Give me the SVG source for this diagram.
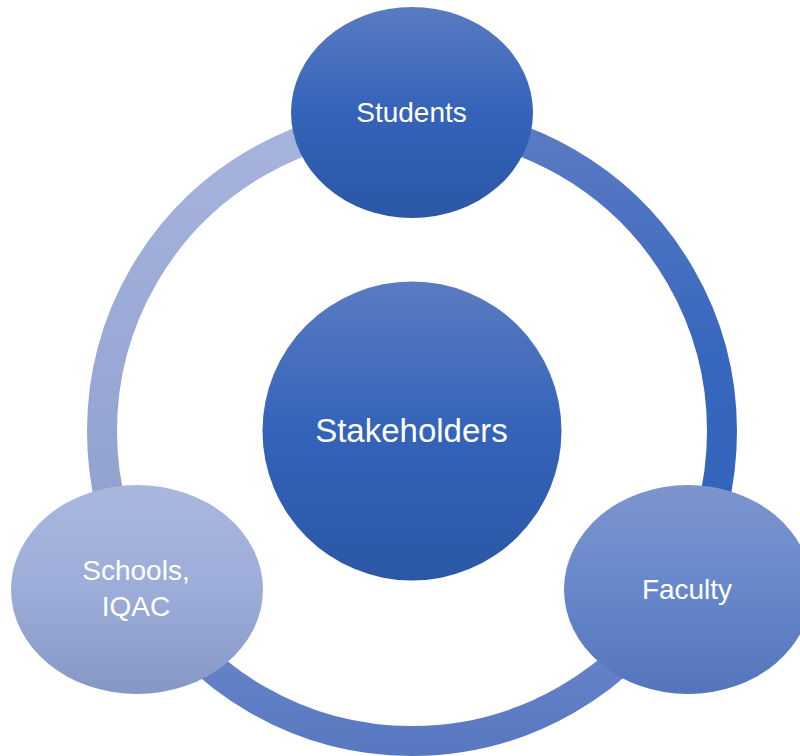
<svg xmlns="http://www.w3.org/2000/svg" width="800" height="756" viewBox="0 0 800 756">
  <defs>
    <linearGradient id="gDark" x1="0" y1="0" x2="0" y2="1">
      <stop offset="0" stop-color="#5A7BC1"/>
      <stop offset="0.5" stop-color="#3463B9"/>
      <stop offset="1" stop-color="#2B57A6"/>
    </linearGradient>
    <linearGradient id="gMid" x1="0" y1="0" x2="0" y2="1">
      <stop offset="0" stop-color="#7C95CE"/>
      <stop offset="0.5" stop-color="#6787CB"/>
      <stop offset="1" stop-color="#5475BB"/>
    </linearGradient>
    <linearGradient id="gLight" x1="0" y1="0" x2="0" y2="1">
      <stop offset="0" stop-color="#AAB7DF"/>
      <stop offset="0.5" stop-color="#9CADD9"/>
      <stop offset="1" stop-color="#8697C6"/>
    </linearGradient>
    <linearGradient id="aLeft" gradientUnits="userSpaceOnUse" x1="0" y1="121" x2="0" y2="586">
      <stop offset="0" stop-color="#A6B4DD"/>
      <stop offset="1" stop-color="#8D9ECD"/>
    </linearGradient>
    <linearGradient id="aRight" gradientUnits="userSpaceOnUse" x1="0" y1="121" x2="0" y2="586">
      <stop offset="0" stop-color="#5B7BC3"/>
      <stop offset="0.5" stop-color="#3767BE"/>
      <stop offset="1" stop-color="#3262B8"/>
    </linearGradient>
    <linearGradient id="aBottom" gradientUnits="userSpaceOnUse" x1="0" y1="586" x2="0" y2="756">
      <stop offset="0" stop-color="#6E8BCE"/>
      <stop offset="1" stop-color="#5777C0"/>
    </linearGradient>
  </defs>
  <style>
    .arc { fill: none; stroke-width: 30; }
    .lbl { font-family: "Liberation Sans", Arial, sans-serif; fill: #FFFFFF; text-anchor: middle; font-size: 28px; }
  </style>
  <rect width="800" height="756" fill="#FFFFFF"/>
  <g id="connectors">
    <path class="arc" stroke="url(#aLeft)" d="M 143.53 586 A 310 310 0 0 1 412 121"/>
    <path class="arc" stroke="url(#aRight)" d="M 412 121 A 310 310 0 0 1 680.47 586"/>
    <path class="arc" stroke="url(#aBottom)" d="M 680.47 586 A 310 310 0 0 1 143.53 586"/>
  </g>
  <g id="node-students">
    <ellipse cx="412" cy="112.5" rx="121" ry="105.5" fill="url(#gDark)"/>
    <text class="lbl" x="411.5" y="121.5">Students</text>
  </g>
  <g id="node-faculty">
    <ellipse cx="688" cy="589.5" rx="124" ry="104.5" fill="url(#gMid)"/>
    <text class="lbl" x="687" y="599">Faculty</text>
  </g>
  <g id="node-schools">
    <ellipse cx="137" cy="589.5" rx="126" ry="104.5" fill="url(#gLight)"/>
    <text class="lbl" x="136" y="580">Schools,</text>
    <text class="lbl" x="136" y="615.5">IQAC</text>
  </g>
  <g id="node-stakeholders">
    <circle cx="412" cy="431" r="149.5" fill="url(#gDark)"/>
    <text class="lbl" x="411.5" y="441.5" style="font-size:33px">Stakeholders</text>
  </g>
</svg>
